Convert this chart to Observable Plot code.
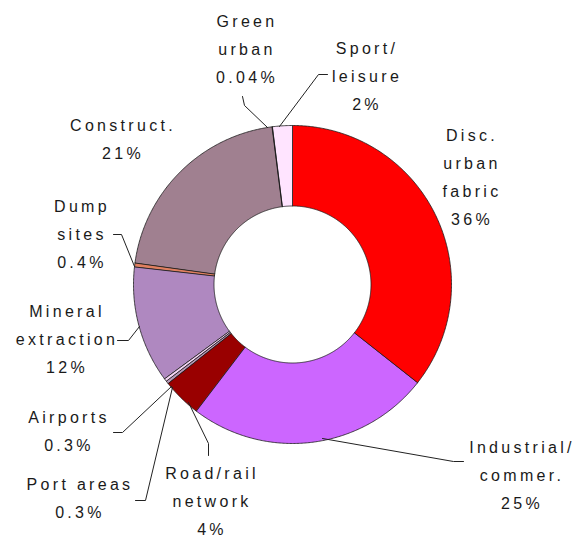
<!DOCTYPE html>
<html>
<head>
<meta charset="utf-8">
<script src="https://cdn.jsdelivr.net/npm/d3@7"></script>
<script src="https://cdn.jsdelivr.net/npm/@observablehq/plot@0.6"></script>
<style>
  html, body { margin: 0; padding: 0; background: #fff; }
  #chart svg { display: block; }
</style>
</head>
<body>
<div id="chart"></div>
<script>
// ---- data ----
const categories = ["Disc. urban fabric", "Industrial/ commer.", "Road/rail network", "Port areas", "Airports",
  "Mineral extraction", "Dump sites", "Construct.", "Green urban", "Sport/ leisure"];
const shares = [36, 25, 4, 0.3, 0.3, 12, 0.4, 21, 0.04, 2];
const shareLabels = ["36%", "25%", "4%", "0.3%", "0.3%", "12%", "0.4%", "21%", "0.04%", "2%"];
const labelLines = ["Disc.\nurban\nfabric", "Industrial/\ncommer.", "Road/rail\nnetwork", "Port areas", "Airports",
  "Mineral\nextraction", "Dump\nsites", "Construct.", "Green\nurban", "Sport/\nleisure"];

// ---- styles / layout ----
const colors = ["#FF0000", "#CC66FF", "#990000", "#B898B8", "#F4D4F4",
  "#AF88C0", "#E08060", "#A08090", "#E8C8E8", "#FFE4FF"];
const W = 584, H = 542;
const cx = 292, cy = 284, R = 159, r0 = 78.5;
const labelX = [470, 520, 210, 78, 67, 65, 80, 121, 245, 365];
const labelY = [174, 472, 498, 495, 428, 336, 231, 136, 46, 73];
const leaderPaths = [
  null,
  [[322, 438], [453, 461], [463, 461]],
  [[188, 402], [208, 443], [208, 455]],
  [[172, 387], [145, 500], [135, 500]],
  [[171, 386], [122, 432], [113, 432]],
  [[139, 326], [128, 340], [117, 340]],
  [[134, 266], [121, 234], [113, 234]],
  null,
  [[267, 127], [244, 105], [242, 96]],
  [[279, 126], [318, 74], [327, 74]]
];

// ---- build slices through d3.pie ----
const pie = d3.pie().sort(null).value(d => d)(shares);
const slicePts = [];
pie.forEach((p, i) => {
  const a0 = p.startAngle, a1 = p.endAngle;
  const n = Math.max(2, Math.ceil((a1 - a0) / (Math.PI / 360)));
  const outer = d3.range(n + 1).map(k => a0 + (a1 - a0) * k / n);
  for (const a of outer) slicePts.push({cat: categories[i], x: cx + R * Math.sin(a), y: cy - R * Math.cos(a)});
  for (const a of outer.slice().reverse()) slicePts.push({cat: categories[i], x: cx + r0 * Math.sin(a), y: cy - r0 * Math.cos(a)});
});

const leaders = [];
leaderPaths.forEach((path, i) => {
  if (!path) return;
  path.forEach(([x, y]) => leaders.push({cat: categories[i], x, y}));
});

const labels = categories.map((c, i) => ({
  cat: c, text: labelLines[i] + "\n" + shareLabels[i], x: labelX[i], y: labelY[i]
}));

const chart = Plot.plot({
  width: W,
  height: H,
  margin: 0,
  x: {type: "linear", domain: [0, W], range: [0, W], axis: null},
  y: {type: "linear", domain: [0, H], range: [0, H], axis: null},
  color: {domain: categories, range: colors},
  style: {fontFamily: "'Liberation Sans', Arial, sans-serif", background: "#fff"},
  marks: [
    Plot.line(slicePts, {x: "x", y: "y", z: "cat", fill: "cat", stroke: "#1a1a1a", strokeWidth: 0.8, curve: "linear-closed"}),
    Plot.line(leaders, {x: "x", y: "y", z: "cat", stroke: "#222", strokeWidth: 1}),
    Plot.text(labels, {x: "x", y: "y", text: "text", fontSize: 16, lineHeight: 1.75, fill: "#1a1a1a",
      textAnchor: "middle", lineAnchor: "middle", dx: 1.5})
  ]
});
chart.querySelectorAll("text").forEach(t => t.setAttribute("letter-spacing", "3.3"));
document.getElementById("chart").appendChild(chart);
</script>
</body>
</html>
